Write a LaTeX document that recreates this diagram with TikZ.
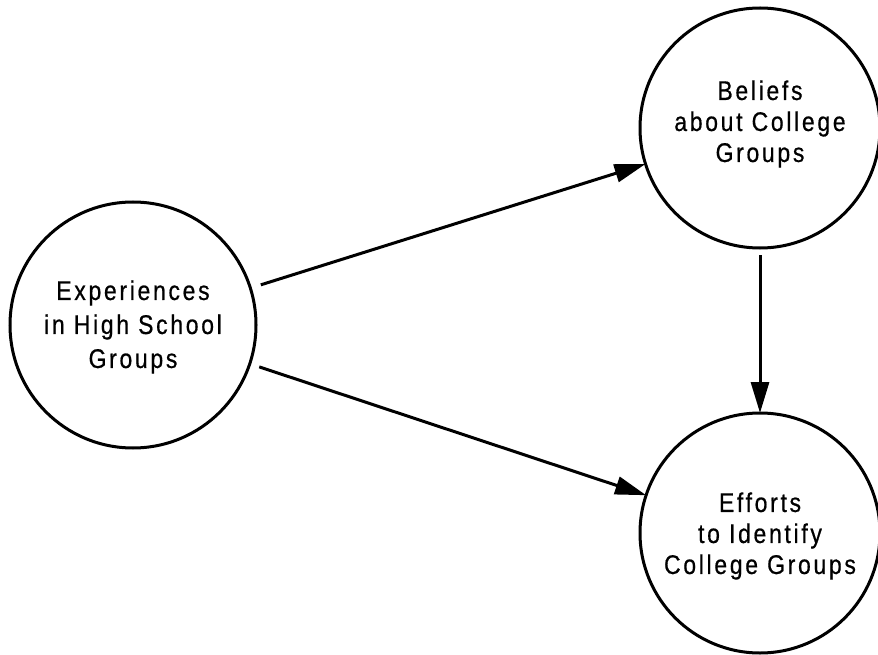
\documentclass[tikz,border=0pt]{standalone}
\usepackage{fontspec}
\setmainfont{Liberation Sans}[LetterSpace=10,FakeBold=0.6,FakeStretch=0.85]
\usetikzlibrary{arrows.meta}
\begin{document}
\begin{tikzpicture}[x=1pt,y=-1pt,
  bubble/.style={circle,draw,line width=3pt,inner sep=0pt,outer sep=0pt,minimum size=#1},
  caption/.style={align=center,inner sep=0pt,font=\fontsize{27}{#1}\selectfont},
  link/.style={line width=3pt,-{Triangle[length=31pt,width=18pt]}}]
\useasboundingbox (0,0) rectangle (878,655);
\node[bubble=246pt] (L) at (133,325) {};
\node[bubble=240pt] (B) at (760,128) {};
\node[bubble=240pt] (E) at (760,533) {};
\node[caption=34] (Lt) at (133,327) {Experiences\\in High School\\Groups};
\node[caption=31] (Bt) at (760,124) {Beliefs\\about College\\Groups};
\node[caption=31] (Et) at (760,536) {Efforts\\to Identify\\College Groups};
\draw[link,shorten <=11pt] (L) -- (B);
\draw[link,shorten <=10pt] (L) -- (E);
\draw[link,shorten <=7pt] (B) -- (E);
\end{tikzpicture}
\end{document}
